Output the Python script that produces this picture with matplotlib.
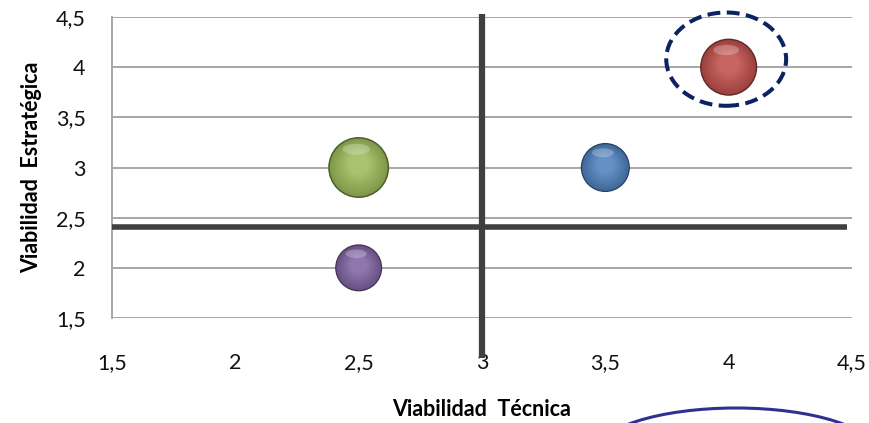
import numpy as np
import matplotlib.pyplot as plt
from matplotlib.patches import Ellipse
from matplotlib.colors import to_rgb

# proyectos evaluados: viabilidad técnica (x), estratégica (y) y peso (tamaño de burbuja)
tecnica = [2.5, 3.5, 4.0, 2.5]
estrategica = [3.0, 3.0, 4.0, 2.0]
peso = [3.7, 2.4, 3.25, 2.2]
colores = ['#9bbb59', '#4f81bd', '#c0504d', '#8064a2']

# cortes de los cuadrantes
corte_x = 3.0
corte_y = 2.41

ticks = [1.5, 2, 2.5, 3, 3.5, 4, 4.5]
tick_labels = ['1,5', '2', '2,5', '3', '3,5', '4', '4,5']

plt.rcParams['font.family'] = ['Lato', 'DejaVu Sans']

fig = plt.figure(figsize=(8.7, 4.23), dpi=100)
ax = fig.add_axes([112 / 870, 1 - 318 / 423, 740 / 870, 301 / 423])
ax.set_xlim(1.5, 4.5)
ax.set_ylim(1.5, 4.5)

ax.set_xticks(ticks)
ax.set_xticklabels(tick_labels)
ax.set_yticks(ticks)
ax.set_yticklabels(tick_labels)
ax.tick_params(length=0, labelsize=15.5, colors='#111111')
ax.tick_params(axis='x', pad=25)
ax.tick_params(axis='y', pad=19)

ax.yaxis.grid(True, color='#a6a6a6', linewidth=1.4)
ax.xaxis.grid(False)
for s in ['top', 'right', 'bottom']:
    ax.spines[s].set_visible(False)
ax.spines['left'].set_color('#a6a6a6')
ax.spines['left'].set_linewidth(1.4)
ax.set_axisbelow(True)

ax.set_xlabel('Viabilidad  Técnica', fontsize=15.5, fontweight='bold', labelpad=19)
ax.set_ylabel('Viabilidad  Estratégica', fontsize=15.5, fontweight='bold', labelpad=10)

# líneas de los cuadrantes
ax.plot([corte_x, corte_x], [1.1, 4.53], color='#404040', lw=4.5,
        solid_capstyle='butt', clip_on=False, zorder=3)
ax.plot([1.5, 4.48], [corte_y, corte_y], color='#404040', lw=4,
        solid_capstyle='butt', clip_on=False, zorder=3)

# burbujas con sombreado tipo 3D
for x, y, p, c in zip(tecnica, estrategica, peso, colores):
    d = 31.7 * np.sqrt(p) * 0.72  # diámetro en puntos
    dpx = d / 0.72
    base = np.array(to_rgb(c))
    dark = base * 0.5
    ax.scatter([x], [y], s=d ** 2, color=dark, edgecolors='none', zorder=4)
    n = 16
    for i in range(n):
        f = i / (n - 1)
        r = d * (0.95 - 0.6 * f)
        col = base * (0.82 + 0.18 * f) + (1 - base) * 0.12 * f
        # el centro del degradado sube un poco para oscurecer la parte baja
        yc = y + f * dpx * 0.06 / 100.3
        ax.scatter([x], [yc], s=r ** 2, color=np.clip(col, 0, 1),
                   edgecolors='none', zorder=4 + 0.01 * i)
    # brillo superior
    hl_y = y + dpx * 0.3 / 100.3
    ax.add_patch(Ellipse((x - 0.01, hl_y), dpx * 0.45 / 246.7,
                         dpx * 0.18 / 100.3, color='white', alpha=0.25,
                         lw=0, zorder=5))

# elipse discontinua alrededor del proyecto destacado
ax.add_patch(Ellipse((3.99, 4.08), 0.486, 0.93, fill=False, edgecolor='#0b2360',
                     lw=2.9, linestyle=(0, (3.2, 1.6)), clip_on=False, zorder=6))

# elipse inferior (recortada por el borde)
fig.add_artist(Ellipse((736 / 870, 1 - 453 / 423), 280 / 870, 90 / 423,
                       transform=fig.transFigure, fill=False,
                       edgecolor='#2e3192', lw=2.2))

fig.savefig('out.png', dpi=100, facecolor='white')
